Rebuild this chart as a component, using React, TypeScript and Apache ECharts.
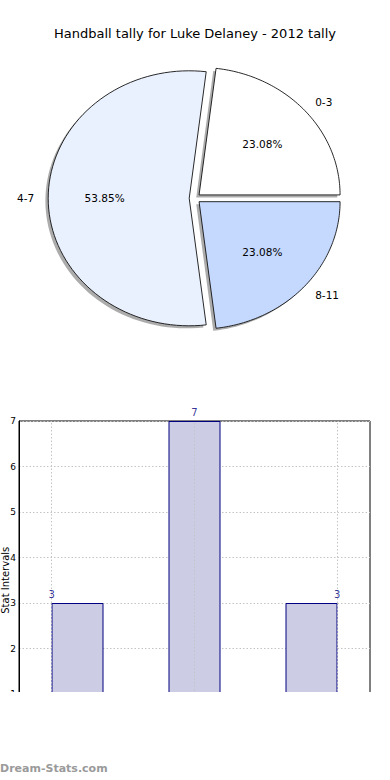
import React, { useEffect, useRef } from "react";
import * as echarts from "echarts";

const titleText = "Handball tally for Luke Delaney - 2012 tally";
const pieLabels = ["0-3", "4-7", "8-11"];
const pieValues = [3, 7, 3];
const pieColors = ["#ffffff", "#eaf1fe", "#c5d9fe"];

const barCategories = ["0-3", "4-7", "8-11"];
const barValues = [3, 7, 3];
const barLabelPositions = [0, 1, 2];
const yAxisName = "Stat Intervals";
const watermark = "Dream-Stats.com";

const FONT = "DejaVu Sans";

export default function App() {
  const ref = useRef<HTMLDivElement>(null);
  useEffect(() => {
    if (!ref.current) return;
    const chart = echarts.init(ref.current, undefined, { renderer: "svg" });
    const total = pieValues.reduce((a, b) => a + b, 0);
    const cx = 194.85;
    const cy = 198.3;
    const rx = 141;
    const ry = 127.5;
    const explode = 0.04;

    const renderSlice = (params: any, api: any) => {
      const i = params.dataIndex;
      const v = api.value(0);
      let before = 0;
      for (let k = 0; k < i; k++) before += pieValues[k];
      const t1 = (before / total) * 2 * Math.PI;
      const t2 = ((before + v) / total) * 2 * Math.PI;
      const mid = (t1 + t2) / 2;
      const ox = cx + explode * rx * Math.cos(mid);
      const oy = cy - explode * ry * Math.sin(mid);
      const pts: number[][] = [[ox, oy]];
      const n = 80;
      for (let s = 0; s <= n; s++) {
        const t = t1 + ((t2 - t1) * s) / n;
        pts.push([ox + rx * Math.cos(t), oy - ry * Math.sin(t)]);
      }
      const shadowPts = pts.map((p) => [p[0] - 0.02 * rx, p[1] + 0.02 * ry]);
      const lx = ox + 1.1 * rx * Math.cos(mid);
      const ly = oy - 1.1 * ry * Math.sin(mid);
      const px = ox + 0.6 * rx * Math.cos(mid);
      const py = oy - 0.6 * ry * Math.sin(mid);
      return {
        type: "group",
        children: [
          {
            type: "polygon",
            z2: 0,
            shape: { points: shadowPts },
            style: { fill: "rgba(90,90,90,0.5)" },
          },
          {
            type: "polygon",
            z2: 10,
            shape: { points: pts },
            style: { fill: pieColors[i], stroke: "#111", lineWidth: 0.9 },
          },
          {
            type: "text",
            z2: 20,
            style: {
              text: pieLabels[i],
              x: lx,
              y: ly,
              align: Math.cos(mid) >= 0 ? "left" : "right",
              verticalAlign: "middle",
              fontSize: 10.5,
              fontFamily: FONT,
              fill: "#000",
            },
          },
          {
            type: "text",
            z2: 20,
            style: {
              text: ((v / total) * 100).toFixed(2) + "%",
              x: px,
              y: py,
              align: "center",
              verticalAlign: "middle",
              fontSize: 10.5,
              fontFamily: FONT,
              fill: "#000",
            },
          },
        ],
      };
    };

    chart.setOption({
      animation: false,
      backgroundColor: "#fff",
      title: {
        text: titleText,
        left: "center",
        top: 22,
        textStyle: { fontSize: 13, fontWeight: "normal", color: "#000", fontFamily: FONT },
      },
      grid: {
        show: true,
        left: 19,
        right: 20,
        top: 421,
        height: 318.5,
        containLabel: false,
        outerBoundsMode: "none",
        borderColor: "#000",
        borderWidth: 1,
        backgroundColor: "transparent",
      },
      xAxis: [
        {
          type: "category",
          data: barCategories,
          axisLabel: { show: false },
          axisTick: { show: false },
          splitLine: { show: false },
          axisLine: { lineStyle: { color: "#000" } },
        },
        {
          type: "value",
          min: -0.229,
          max: 2.229,
          show: false,
          splitLine: { show: false },
        },
      ],
      yAxis: {
        type: "value",
        min: 0,
        max: 7,
        interval: 1,
        name: yAxisName,
        nameLocation: "middle",
        nameGap: 9,
        nameMoveOverlap: false,
        nameTextStyle: { fontSize: 10, lineHeight: 10, fontFamily: FONT, color: "#000" },
        axisLine: { show: true, onZero: false, lineStyle: { color: "#000" } },
        axisTick: { show: false },
        axisLabel: { fontSize: 9, fontFamily: FONT, color: "#000", margin: 3 },
        splitLine: { show: true, lineStyle: { color: "#c4c4c4", type: [1.5, 2], width: 1 } },
      },
      series: [
        {
          type: "custom",
          coordinateSystem: "none",
          renderItem: renderSlice,
          data: pieValues.map((v, i) => ({ name: pieLabels[i], value: v })),
        },
        {
          type: "bar",
          xAxisIndex: 0,
          yAxisIndex: 0,
          data: barValues,
          barWidth: 52,
          itemStyle: { color: "#ccccE5", borderColor: "#000080", borderWidth: 1 },
        },
        {
          type: "scatter",
          xAxisIndex: 1,
          yAxisIndex: 0,
          z: 3,
          symbolSize: 1,
          itemStyle: { color: "rgba(0,0,0,0)" },
          data: barLabelPositions.map((x, i) => [x, barValues[i]]),
          label: {
            show: true,
            position: "top",
            distance: 3,
            fontSize: 10,
            fontFamily: FONT,
            color: "#000080",
            formatter: (p: any) => String(p.value[1]),
          },
          markLine: {
            silent: true,
            symbol: ["none", "none"],
            label: { show: false },
            lineStyle: { color: "#c4c4c4", type: [1.5, 2], width: 1 },
            data: barLabelPositions.map((x) => ({ xAxis: x })),
          },
        },
      ],
      graphic: [
        {
          type: "rect",
          left: 0,
          top: 692,
          z: 100,
          shape: { width: 390, height: 88 },
          style: { fill: "#fff" },
        },
        {
          type: "text",
          left: 0,
          top: 763,
          z: 101,
          style: {
            text: watermark,
            fontSize: 11,
            fontWeight: "bold",
            fontFamily: FONT,
            fill: "#9a9a9a",
          },
        },
      ],
    });
    return () => chart.dispose();
  }, []);
  return (
    <div
      ref={ref}
      style={{ position: "fixed", left: 0, top: 0, width: 390, height: 780 }}
    />
  );
}
